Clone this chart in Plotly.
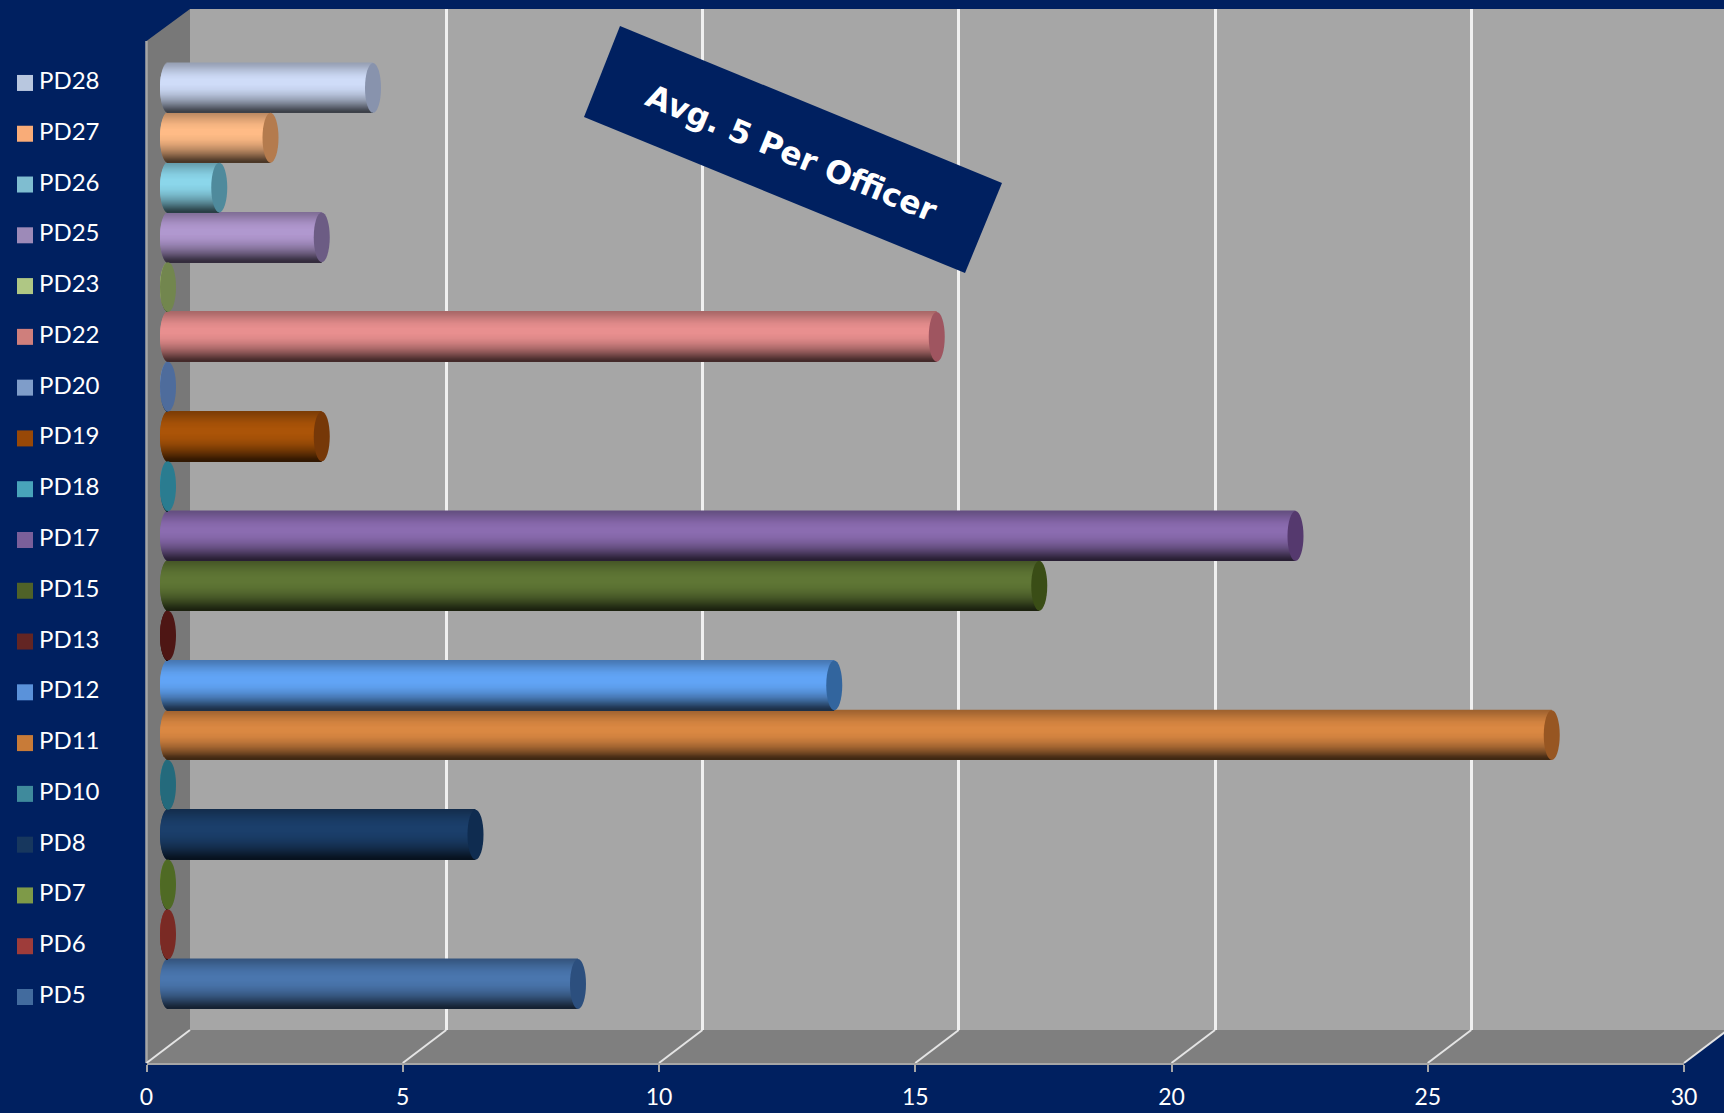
import plotly.graph_objects as go

W, H = 1724, 1113

categories = ["PD5","PD6","PD7","PD8","PD10","PD11","PD12","PD13","PD15","PD17",
              "PD18","PD19","PD20","PD22","PD23","PD25","PD26","PD27","PD28"]
values = [8,0,0,6,0,27,13,0,17,22,0,3,0,15,0,3,1,2,4]
bar_colors = ["#4a76ae","#a83c36","#7f9c48","#1b3f6b","#38909f","#da8843","#62a5f6","#5a1d1a",
              "#5f7635","#8b6cb0","#3f9fb8","#ab5408","#7f9fce","#e88f8f","#b0c884","#b198cf",
              "#8bd6ea","#ffbb86","#cfdcf8"]
cap_colors = ["#2c4f7e","#7a2a24","#4f6a24","#0f2c50","#246a7c","#975622","#32659e","#4e1614",
              "#3a4d16","#55396e","#2a7c90","#763808","#4e6c9c","#9f5560","#72864e","#6c5c84",
              "#4f8a9c","#b47b4e","#8893ad"]
swatch_colors = ["#426b9e","#9e3c3a","#7e9a48","#17375e","#3f8a9c","#c87b38","#5a92da","#632523",
                 "#4f6228","#7a5f9a","#48a4ba","#984807","#7f9dc9","#cf7f7c","#afc784","#9d8ab8",
                 "#7fbdd0","#f9ac78","#b8c7df"]
x_ticks = [0,5,10,15,20,25,30]

NAVY = "#002060"
px_per_unit = (1684-146.5)/30
depth_dx, depth_dy = 43.5, 33

def px(x): return x/W
def py(y): return 1-y/H

# cylinder shading profile, top to bottom: (position, brightness)
profile = [(0,.72),(.06,.77),(.15,.87),(.25,.96),(.35,1),(.45,1),(.55,.96),(.65,.87),
           (.75,.74),(.83,.6),(.9,.46),(.95,.36),(1,.28)]
N = 50
R = 8/px_per_unit

def shade(col, f):
    r,g,b = int(col[1:3],16),int(col[3:5],16),int(col[5:7],16)
    return f"rgb({int(r*f)},{int(g*f)},{int(b*f)})"

def brightness(t):
    for (a,fa),(b,fb) in zip(profile,profile[1:]):
        if a <= t <= b:
            return fa+(fb-fa)*(t-a)/(b-a)
    return profile[-1][1]

fig = go.Figure()

fig.add_trace(go.Scatter(x=[], y=[], xaxis="x", yaxis="y", showlegend=False))
fig.add_trace(go.Scatter(x=[], y=[], xaxis="x2", yaxis="y2", showlegend=False))

band = 1.0
for k in range(N):
    t = (k+.5)/N
    chord = (1-(2*t-1)**2)**.5
    b = R*chord
    fig.add_trace(go.Bar(
        y=categories, x=[v+b for v in values], base=[-b]*len(values),
        orientation="h", xaxis="x3", yaxis="y3",
        width=band/N*1.5, offset=band/2-(k+1)*band/N,
        marker=dict(color=[shade(c,brightness(t)) for c in bar_colors], line=dict(width=0)),
        showlegend=False, hoverinfo="skip"))

fig.add_trace(go.Scatter(
    x=[25]*len(categories), y=categories, xaxis="x4", yaxis="y4", mode="markers",
    marker=dict(symbol="square", size=16, color=swatch_colors, line=dict(width=0)),
    showlegend=False, hoverinfo="skip"))
fig.add_trace(go.Scatter(
    x=[39]*len(categories), y=categories, xaxis="x4", yaxis="y4", mode="text",
    text=categories, textposition="middle right",
    textfont=dict(family="Lato", size=24, color="white"),
    showlegend=False, hoverinfo="skip"))

shapes = []
shapes.append(dict(type="rect", xref="paper", yref="paper", x0=px(190), x1=1, y0=py(1030), y1=py(9),
                   fillcolor="#a6a6a6", line_width=0, layer="below"))
shapes.append(dict(type="path", xref="paper", yref="paper", layer="below", line_width=0, fillcolor="#7f7f7f",
                   path=f"M {px(146.5)} {py(1063)} L {px(190)} {py(1030)} L 1 {py(1030)} L 1 {py(1033)} L {px(1684)} {py(1063)} Z"))
shapes.append(dict(type="path", xref="paper", yref="paper", layer="below", line_width=0, fillcolor="#787878",
                   path=f"M {px(146.5)} {py(41)} L {px(190)} {py(9)} L {px(190)} {py(1030)} L {px(146.5)} {py(1063)} Z"))
shapes.append(dict(type="line", xref="paper", yref="paper", layer="below",
                   x0=px(146.5), x1=px(146.5), y0=py(41), y1=py(1063), line=dict(color="#a6a6a6", width=2.5)))
for t in x_ticks:
    xf = 146.5+t*px_per_unit
    shapes.append(dict(type="line", xref="paper", yref="paper", layer="below",
                       x0=px(xf), y0=py(1063), x1=px(xf+depth_dx), y1=py(1063-depth_dy),
                       line=dict(color="#e4e4e4", width=2)))
for i,(v,c) in enumerate(zip(values,cap_colors)):
    shapes.append(dict(type="circle", xref="x3", yref="y3", layer="above", line_width=0, fillcolor=c,
                       x0=v-R, x1=v+R, y0=i-.5, y1=i+.5))
shapes.append(dict(type="path", xref="paper", yref="paper", layer="above", line_width=0, fillcolor=NAVY,
                   path=f"M {px(620)} {py(26)} L {px(1002)} {py(183)} L {px(965)} {py(273)} L {px(584)} {py(117)} Z"))

annotations = [dict(text="<b>Avg. 5 Per Officer</b>", xref="paper", yref="paper", x=px(791), y=py(153),
                    textangle=22.3, showarrow=False, xanchor="center", yanchor="middle",
                    font=dict(family="DejaVu Sans", size=31.5, color="white"))]

hidden = dict(visible=False, fixedrange=True, automargin=False)
plain = dict(showgrid=False, zeroline=False, showticklabels=False, ticks="", showline=False, automargin=False)
back_x_range = (W-190)/px_per_unit
y3_lo = (984-H)/49.78
y3_hi = 984/49.78
y4_lo = (997-H)/50.78
y4_hi = 997/50.78

fig.update_layout(
    width=W, height=H, margin=dict(l=0,r=0,t=0,b=0), autosize=False,
    paper_bgcolor=NAVY, plot_bgcolor="rgba(0,0,0,0)", barmode="overlay", showlegend=False,
    xaxis=dict(domain=[px(190),1], range=[0,back_x_range], dtick=5, tick0=0, showgrid=True, automargin=False,
               gridcolor="#f0f0f0", gridwidth=2.5, zeroline=False, showticklabels=False, ticks="", showline=False, anchor="y"),
    yaxis=dict(domain=[py(1030),py(9)], range=[0,1], anchor="x", **plain),
    xaxis2=dict(domain=[px(146.5),px(1684)], range=[0,30], tickvals=x_ticks, ticks="outside", ticklen=7, automargin=False,
                tickwidth=2, tickcolor="#a6a6a6", showline=True, linecolor="#a6a6a6", linewidth=2, ticklabelstandoff=5,
                showgrid=False, zeroline=False, tickfont=dict(family="Lato", size=23, color="white"), anchor="y2"),
    yaxis2=dict(domain=[py(1063),1], range=[0,1], anchor="x2", **plain),
    xaxis3=dict(domain=[0,1], range=[-168/px_per_unit,(W-168)/px_per_unit], anchor="y3", **hidden),
    yaxis3=dict(domain=[0,1], range=[y3_lo,y3_hi], type="category", categoryorder="array", categoryarray=categories, anchor="x3", **hidden),
    xaxis4=dict(domain=[0,1], range=[0,W], anchor="y4", **hidden),
    yaxis4=dict(domain=[0,1], range=[y4_lo,y4_hi], type="category", categoryorder="array", categoryarray=categories, anchor="x4", **hidden),
    shapes=shapes, annotations=annotations,
)
fig.write_html("out.html", config={"displayModeBar": False},
               post_script="document.body.style.margin='0';document.body.style.overflow='hidden';")
